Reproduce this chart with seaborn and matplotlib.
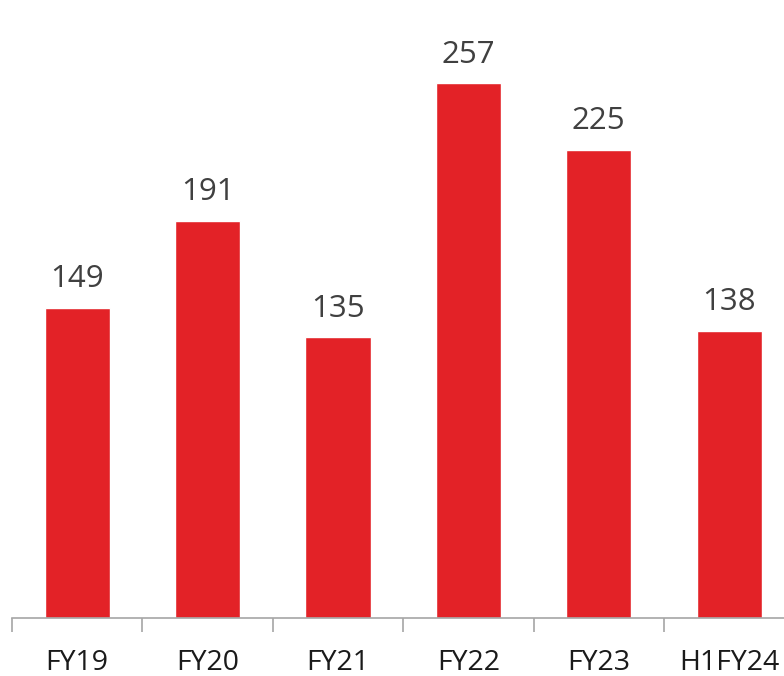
import matplotlib
matplotlib.use("Agg")
import numpy as np
import pandas as pd
import matplotlib.pyplot as plt
import seaborn as sns

periods = ["FY19", "FY20", "FY21", "FY22", "FY23", "H1FY24"]
values = [149, 191, 135, 257, 225, 138]

df = pd.DataFrame({"period": periods, "value": values})

sns.set_style("white")
plt.rcParams['font.family'] = ['Open Sans', 'DejaVu Sans']

fig = plt.figure(figsize=(7.84, 6.76), dpi=100)
# axis spans past the right edge, like the original crop
ax = fig.add_axes([12 / 784, 58 / 676, 782.4 / 784, 618 / 676])

sns.barplot(data=df, x="period", y="value", color="#E32227", width=0.5,
            saturation=1, ax=ax)

for i, v in enumerate(values):
    ax.text(i, v + 6.5, str(v), ha="center", va="bottom", fontsize=22.5, color="#404040")

ax.set_xlim(-0.5, len(periods) - 0.5)
ax.set_ylim(0, 297)
ax.set_xlabel("")
ax.set_ylabel("")
ax.set_yticks([])
for s in ["top", "right", "left"]:
    ax.spines[s].set_visible(False)
ax.spines["bottom"].set_color("#A6A6A6")
ax.spines["bottom"].set_linewidth(1.2)

# ticks at category boundaries
ax.set_xticks(np.arange(len(periods) + 1) - 0.5, minor=True)
ax.tick_params(axis="x", which="both", bottom=True)
ax.tick_params(axis="x", which="minor", length=10, width=1.2, color="#A6A6A6")
ax.tick_params(axis="x", which="major", length=0, pad=22, labelsize=20.5, labelcolor="#1a1a1a")

plt.savefig("out.png", dpi=100)
